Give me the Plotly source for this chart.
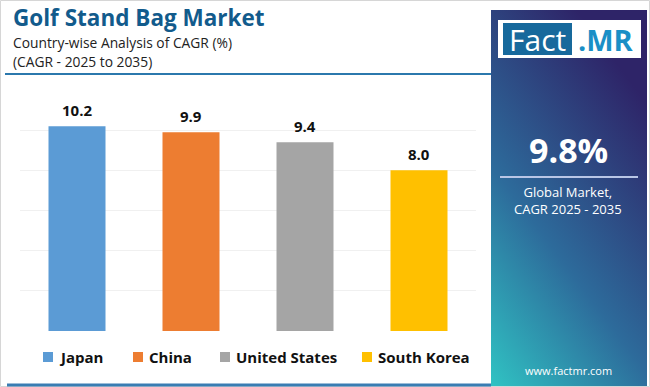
import base64
import plotly.graph_objects as go

countries = ["Japan", "China", "United States", "South Korea"]
cagr = [10.2, 9.9, 9.4, 8.0]
colors = ["#5b9bd5", "#ed7d31", "#a5a5a5", "#ffc000"]
global_cagr = "9.8%"

W, H = 650, 387
L, R, T, B = 20, 476, 90, 331

def px(x):
    return (x - L) / (R - L)

def py(y):
    return (B - y) / (B - T)

fig = go.Figure()
fig.add_trace(go.Bar(
    x=countries, y=cagr, marker=dict(color=colors, line=dict(width=0)),
    showlegend=False, hoverinfo="x+y",
))

annotations = []
for c, v in zip(countries, cagr):
    annotations.append(dict(x=c, y=v, xref="x", yref="y", text=f"<b>{v:.1f}</b>",
                            showarrow=False, yshift=16,
                            font=dict(family="Open Sans", size=15, color="#111111")))

shapes = []
# frame
shapes.append(dict(type="rect", xref="paper", yref="paper", x0=px(0.5), x1=px(649.5), y0=py(386.5), y1=py(0.5),
                   line=dict(color="#d6d6d6", width=1), layer="below"))
# title underline
shapes.append(dict(type="line", xref="paper", yref="paper", x0=px(5), x1=px(491), y0=py(74), y1=py(74),
                   line=dict(color="#2b78ad", width=2)))
# bottom line
shapes.append(dict(type="line", xref="paper", yref="paper", x0=px(7), x1=px(491), y0=py(385), y1=py(385),
                   line=dict(color="#3a7db3", width=3)))

# legend
leg_x = [43, 133, 220, 362]
for c, col, lx in zip(countries, colors, leg_x):
    shapes.append(dict(type="rect", xref="paper", yref="paper", x0=px(lx), x1=px(lx + 10),
                       y0=py(362), y1=py(352), fillcolor=col, line=dict(width=0)))
    annotations.append(dict(x=px(lx + 14), y=py(357), xref="paper", yref="paper", text=f"<b>{c}</b>",
                            showarrow=False, xanchor="left", yanchor="middle",
                            font=dict(family="Open Sans", size=15, color="#111111")))

# titles
annotations.append(dict(x=px(11), y=py(18), xref="paper", yref="paper", text="<b>Golf Stand Bag Market</b>",
                        showarrow=False, xanchor="left", yanchor="middle",
                        font=dict(family="Open Sans", size=22.5, color="#125b8c")))
annotations.append(dict(x=px(11), y=py(42), xref="paper", yref="paper", text="Country-wise Analysis of CAGR (%)",
                        showarrow=False, xanchor="left", yanchor="middle",
                        font=dict(family="Open Sans", size=13.8, color="#222222")))
annotations.append(dict(x=px(11), y=py(61), xref="paper", yref="paper", text="(CAGR - 2025 to 2035)",
                        showarrow=False, xanchor="left", yanchor="middle",
                        font=dict(family="Open Sans", size=13.8, color="#222222")))

# right panel gradient (SVG image)
svg = (
    '<svg xmlns="http://www.w3.org/2000/svg" width="156" height="377" viewBox="0 0 156 377" preserveAspectRatio="none">'
    '<defs><linearGradient id="g" x1="0" y1="1" x2="0.55" y2="0">'
    '<stop offset="0" stop-color="#30c3c3"/>'
    '<stop offset="0.45" stop-color="#2d6b9b"/>'
    '<stop offset="1" stop-color="#2e2468"/>'
    '</linearGradient></defs>'
    '<rect width="156" height="377" fill="url(#g)"/></svg>'
)
src = "data:image/svg+xml;base64," + base64.b64encode(svg.encode()).decode()
images = [dict(source=src, xref="paper", yref="paper", x=px(491), y=py(10),
               sizex=px(647) - px(491), sizey=py(10) - py(387), sizing="stretch",
               xanchor="left", yanchor="top", layer="below")]

# logo
shapes.append(dict(type="rect", xref="paper", yref="paper", x0=px(498), x1=px(641), y0=py(58), y1=py(20),
                   fillcolor="white", line=dict(width=0)))
shapes.append(dict(type="rect", xref="paper", yref="paper", x0=px(503), x1=px(572), y0=py(55), y1=py(23),
                   fillcolor="#17699c", line=dict(width=0)))
annotations.append(dict(x=px(537.5), y=py(39), xref="paper", yref="paper", text="Fact",
                        showarrow=False, xanchor="center", yanchor="middle",
                        font=dict(family="Open Sans", size=30, color="white")))
annotations.append(dict(x=px(606), y=py(39), xref="paper", yref="paper", text="<b>.MR</b>",
                        showarrow=False, xanchor="center", yanchor="middle",
                        font=dict(family="Open Sans", size=29, color="#1a8fc6")))

# panel text
annotations.append(dict(x=px(568), y=py(150), xref="paper", yref="paper", text=f"<b>{global_cagr}</b>",
                        showarrow=False, xanchor="center", yanchor="middle",
                        font=dict(family="Open Sans", size=34, color="white")))
shapes.append(dict(type="line", xref="paper", yref="paper", x0=px(500), x1=px(638), y0=py(177), y1=py(177),
                   line=dict(color="#b9c6e6", width=2)))
annotations.append(dict(x=px(568), y=py(200), xref="paper", yref="paper", text="Global Market,<br>CAGR 2025 - 2035",
                        showarrow=False, xanchor="center", yanchor="middle",
                        font=dict(family="Open Sans", size=13, color="white")))
annotations.append(dict(x=px(568), y=py(370), xref="paper", yref="paper", text="www.factmr.com",
                        showarrow=False, xanchor="center", yanchor="middle",
                        font=dict(family="Open Sans", size=11, color="white")))

fig.update_layout(
    width=W, height=H,
    margin=dict(l=L, r=W - R, t=T, b=H - B),
    paper_bgcolor="white", plot_bgcolor="white",
    bargap=0.5,
    xaxis=dict(showticklabels=False, showgrid=False, zeroline=False, showline=False, range=[-0.5, 3.5]),
    yaxis=dict(range=[0, 12], dtick=2, showticklabels=False, showgrid=True, gridcolor="#f0f0f0",
               gridwidth=1, zeroline=False, showline=False),
    annotations=annotations, shapes=shapes, images=images,
    showlegend=False,
)

fig.write_html("out.html", config={"displayModeBar": False},
               post_script="document.body.style.margin='0';document.body.style.overflow='hidden';")
